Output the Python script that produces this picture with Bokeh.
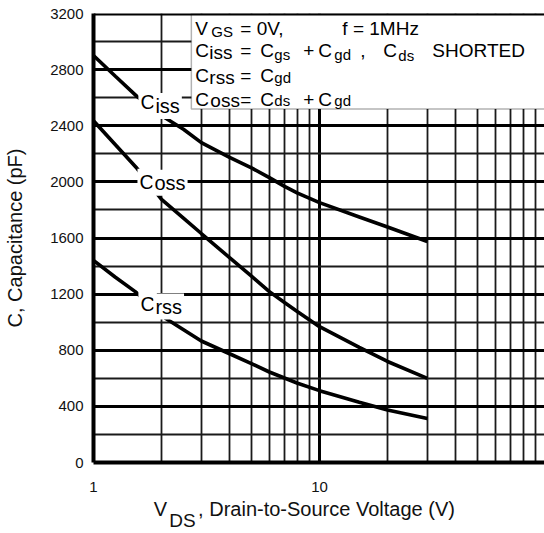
import math
from bokeh.plotting import figure
from bokeh.models import FixedTicker, Label, BoxAnnotation, Span, Range1d, LogAxis
from bokeh.embed import file_html
from bokeh.resources import INLINE

# ---- data ----
V_ISS = [1, 1.25, 1.56, 2.08, 2.5, 3, 4, 5, 6, 7, 8, 10, 15, 20, 30]
C_ISS = [2900, 2753, 2608, 2455, 2375, 2280, 2175, 2100, 2030, 1968, 1920, 1852, 1750, 1678, 1575]

V_OSS = [1, 1.25, 1.56, 2, 2.5, 3, 4, 5, 6, 7, 8, 10, 15, 20, 30]
C_OSS = [2435, 2265, 2095, 1875, 1742, 1632, 1460, 1328, 1218, 1140, 1075, 968, 820, 720, 600]

V_RSS = [1, 1.25, 1.53, 2.08, 3, 4, 5, 6, 8, 10, 15, 20, 30]
C_RSS = [1440, 1320, 1218, 1028, 866, 775, 705, 645, 565, 512, 430, 374, 313]

X_TICKS = [1, 10, 100]
X_TICK_LABELS = ["1", "10", "100"]
X_MINOR = [2, 3, 4, 5, 6, 7, 8, 9, 20, 30, 40, 50, 60, 70, 80, 90]
Y_TICKS = [0, 400, 800, 1200, 1600, 2000, 2400, 2800, 3200]
Y_TICK_LABELS = ["0", "400", "800", "1200", "1600", "2000", "2400", "2800", "3200"]
Y_MINOR = [200, 600, 1000, 1400, 1800, 2200, 2600, 3000]

X_TITLE_MAIN = ", Drain-to-Source Voltage (V)"
Y_TITLE = "C, Capacitance (pF)"

FONT = "Liberation Sans"

p = figure(width=544, height=533, x_axis_type="log",
           x_range=Range1d(1, 99), y_range=Range1d(0, 3200),
           output_backend="svg", toolbar_location=None,
           min_border_left=93, min_border_right=0, min_border_top=13, min_border_bottom=70)
p.outline_line_color = None
p.background_fill_color = "white"
p.border_fill_color = "white"


def plain_axis(ax, size, standoff):
    ax.major_tick_out = 0
    ax.major_tick_in = 0
    ax.minor_tick_out = 0
    ax.minor_tick_in = 0
    ax.major_tick_line_color = None
    ax.minor_tick_line_color = None
    ax.major_label_text_font = FONT
    ax.major_label_text_font_size = size
    ax.major_label_text_color = "#111111"
    ax.major_label_standoff = standoff


# main axes
p.xaxis.ticker = FixedTicker(ticks=X_TICKS)
p.xaxis.major_label_overrides = dict(zip(X_TICKS, X_TICK_LABELS))
p.yaxis.ticker = FixedTicker(ticks=Y_TICKS)
p.yaxis.major_label_overrides = dict(zip(Y_TICKS, Y_TICK_LABELS))
plain_axis(p.xaxis[0], "15px", 19)
plain_axis(p.yaxis[0], "15px", 10)
for ax in (p.xaxis[0], p.yaxis[0]):
    ax.axis_line_width = 4
    ax.axis_line_color = "black"

p.yaxis.axis_label = Y_TITLE
p.yaxis.axis_label_text_font = FONT
p.yaxis.axis_label_text_font_size = "20px"
p.yaxis.axis_label_text_font_style = "normal"
p.yaxis.axis_label_text_color = "#111111"
p.yaxis.axis_label_standoff = 21

# x-axis title: "V", then subscript "DS", then the rest (placed as extra tick-label rows)
V_POS, DS_POS, MAIN_POS = 1.978, 2.476, 10.74
title_axis = LogAxis(ticker=FixedTicker(ticks=[V_POS, MAIN_POS]),
                     major_label_overrides={V_POS: "V", MAIN_POS: X_TITLE_MAIN},
                     axis_line_color=None)
plain_axis(title_axis, "20px", 3)
p.add_layout(title_axis, "below")
sub_axis = LogAxis(ticker=FixedTicker(ticks=[DS_POS]),
                   major_label_overrides={DS_POS: "DS"},
                   axis_line_color=None)
plain_axis(sub_axis, "19px", -13)
p.add_layout(sub_axis, "below")

# grids
p.xgrid.ticker = FixedTicker(ticks=X_TICKS, minor_ticks=X_MINOR)
p.ygrid.ticker = FixedTicker(ticks=Y_TICKS, minor_ticks=Y_MINOR)
for g in (p.xgrid[0], p.ygrid[0]):
    g.grid_line_color = "black"
    g.grid_line_width = 3
    g.grid_line_alpha = 1
    g.minor_grid_line_color = "#1a1a1a"
    g.minor_grid_line_width = 1.8
    g.minor_grid_line_alpha = 1
p.ygrid.minor_grid_line_width = 2

# curves
for xs, ys in ((V_ISS, C_ISS), (V_OSS, C_OSS), (V_RSS, C_RSS)):
    p.line(xs, ys, line_color="black", line_width=3.6)

# curve labels with white background
CURVE_LABELS = [("iss", 1.58, 2499, 2470), ("oss", 1.565, 1929, 1922), ("rss", 1.58, 1059, 1040)]
for sub, vx, cy, sy in CURVE_LABELS:
    p.add_layout(Label(x=vx, y=cy, y_offset=10, text="C", text_font=FONT, text_font_size="20px",
                       text_baseline="alphabetic", text_color="black",
                       background_fill_color="white", padding=2))
    p.add_layout(Label(x=vx, y=sy, x_offset=15, y_offset=10, text=sub, text_font=FONT,
                       text_font_size="20px", text_baseline="alphabetic", text_color="black",
                       background_fill_color="white", padding=2))

# condition box
BOX_LEFT_V = 2.71
BOX_BOTTOM_C = 2520
p.add_layout(BoxAnnotation(left=BOX_LEFT_V, right=100, bottom=BOX_BOTTOM_C, top=3200,
                           fill_color="white", fill_alpha=1,
                           line_color="black", line_width=1.5))
p.add_layout(Span(location=3200, dimension="width", line_color="black", line_width=4))

BIG, SMALL = "19px", "15px"
SHIFT = {BIG: 8, SMALL: 6}
BOX_TEXT = [
    ("V", 4, 23.2, BIG), ("GS", 20, 24.0, SMALL), ("= 0V,", 49, 23.2, BIG), ("f = 1MHz", 151, 23.2, BIG),
    ("C", 4, 44.8, BIG), ("iss", 18, 47.2, BIG), ("=", 49, 44.8, BIG), ("C", 69, 44.8, BIG),
    ("gs", 83, 46.5, SMALL), ("+", 112, 44.8, BIG), ("C", 127, 44.8, BIG), ("gd", 143, 46.5, SMALL),
    (",", 169, 44.8, BIG), ("C", 192, 44.8, BIG), ("ds", 207, 48.0, SMALL), ("SHORTED", 241, 44.8, BIG),
    ("C", 4, 69.5, BIG), ("rss", 18, 71.5, BIG), ("=", 49, 69.5, BIG), ("C", 69, 69.5, BIG),
    ("gd", 83, 70.0, SMALL),
    ("C", 4, 93.5, BIG), ("oss", 19, 95.0, BIG), ("=", 49, 93.5, BIG), ("C", 69, 93.5, BIG),
    ("ds", 83, 93.0, SMALL), ("+", 112, 93.5, BIG), ("C", 127, 93.5, BIG), ("gd", 143, 93.0, SMALL),
]
for txt, dx, dy, fs in BOX_TEXT:
    p.add_layout(Label(x=BOX_LEFT_V, y=3200, x_offset=dx, y_offset=-(dy - SHIFT[fs]), text=txt,
                       text_font=FONT, text_font_size=fs, text_baseline="alphabetic",
                       text_align="left", text_color="black"))

open("out.html", "w").write(file_html(p, INLINE))
